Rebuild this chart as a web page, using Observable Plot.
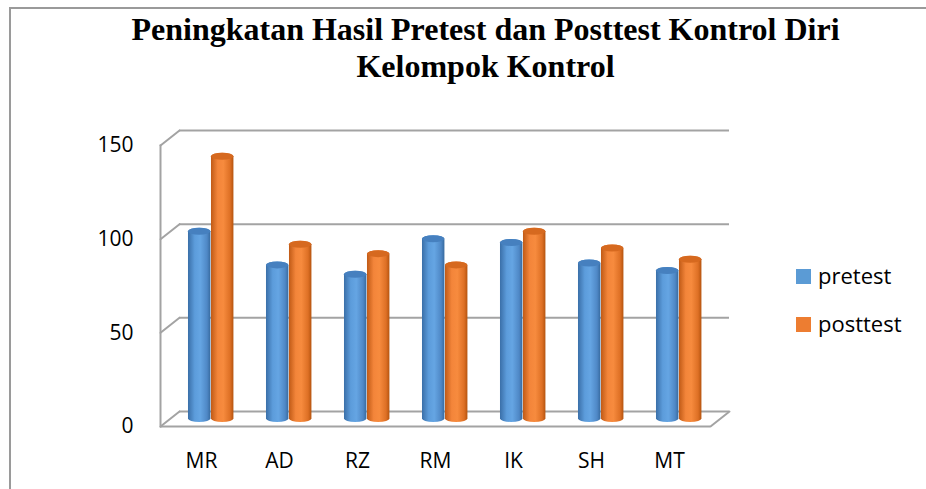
<!DOCTYPE html>
<html>
<head>
<meta charset="utf-8">
<script src="https://cdn.jsdelivr.net/npm/d3@7"></script>
<script src="https://cdn.jsdelivr.net/npm/@observablehq/plot@0.6"></script>
<style>
  html, body { margin: 0; padding: 0; background: #fff; }
  #wrap { position: relative; width: 926px; height: 489px; overflow: hidden; background: #fff; }
  #border { position: absolute; left: 9px; top: 7px; width: 930px; height: 500px; border: 2px solid #9a9a9a; box-sizing: border-box; }
  #title { position: absolute; left: 9px; width: 953px; top: 11px; text-align: center; font-family: "Liberation Serif", "Times New Roman", serif; font-weight: bold; font-size: 32px; line-height: 37px; color: #000; }
  #chart { position: absolute; left: 0; top: 0; }
  .legend { position: absolute; left: 796px; font-family: "Open Sans", sans-serif; font-size: 22px; color: #000; }
  .legend .item { position: absolute; left: 0; white-space: nowrap; height: 30px; line-height: 30px; }
  .legend .sw { display: inline-block; width: 15px; height: 15px; vertical-align: middle; margin-right: 7px; position: relative; top: -2px; }
</style>
</head>
<body>
<div id="wrap">
  <div id="border"></div>
  <div id="chart"></div>
  <div id="title">Peningkatan Hasil Pretest dan Posttest Kontrol Diri<br>Kelompok Kontrol</div>
  <div class="legend" id="legend"></div>
</div>
<script>
const categories = ["MR", "AD", "RZ", "RM", "IK", "SH", "MT"];
const seriesNames = ["pretest", "posttest"];
const pretest = [100, 82, 77, 96, 94, 83, 79];
const posttest = [140, 93, 88, 82, 100, 91, 85];
const yTicks = [0, 50, 100, 150];
const seriesColors = ["#5b9bd5", "#ed7d31"];

const data = [];
categories.forEach((c, i) => {
  data.push({cat: c, series: "pretest", value: pretest[i]});
  data.push({cat: c, series: "posttest", value: posttest[i]});
});
const pre = data.filter(d => d.series === "pretest");
const post = data.filter(d => d.series === "posttest");

const W = 926, H = 489;
const mL = 160, mR = 216, mT = 145, mB = 63;
const step = (W - mL - mR) / categories.length;
const barW = 23;
const inset = (step - barW) / 2;
const depthX = 19, depthY = -15;           // back wall offset
const midX = 9.7, midY = -7.5;             // bars sit mid-depth
const capR = 3.5;
const grid = "#a3a3a3";

const barOpts = (extra) => Object.assign({
  x: "cat", insetLeft: inset, insetRight: inset, dy: midY,
  rx: barW / 2, ry: capR
}, extra);

const plot = Plot.plot({
  width: W, height: H,
  marginLeft: mL, marginRight: mR, marginTop: mT, marginBottom: mB,
  style: {fontFamily: "Open Sans, sans-serif", fontSize: "21px", color: "#000", background: "transparent"},
  x: {type: "band", domain: categories, padding: 0, label: null},
  y: {domain: [0, 150], ticks: yTicks, label: null},
  marks: [
    // back wall gridlines (incl. back floor edge)
    Plot.ruleY(yTicks, {dx: depthX, dy: depthY, stroke: grid, strokeWidth: 2}),
    // depth connectors on the left
    Plot.vector(yTicks, {y: d => d, frameAnchor: "left", length: Math.hypot(depthX, depthY),
      rotate: Math.atan2(depthX, -depthY) * 180 / Math.PI, anchor: "start", shape: "spike", r: 0,
      stroke: grid, strokeWidth: 2, fill: "none"}),
    // floor right connector
    Plot.vector([0], {y: d => d, frameAnchor: "right", length: Math.hypot(depthX, depthY),
      rotate: Math.atan2(depthX, -depthY) * 180 / Math.PI, anchor: "start", shape: "spike", r: 0,
      stroke: grid, strokeWidth: 2, fill: "none"}),
    // front floor edge and left axis line
    Plot.ruleY([0], {stroke: grid, strokeWidth: 2}),
    Plot.frame({anchor: "left", stroke: grid, strokeWidth: 2}),
    // cylinders
    Plot.barY(pre, barOpts({y: "value", dx: midX - barW / 2, insetTop: -capR, insetBottom: -capR, fill: "url(#gBlue)"})),
    Plot.barY(post, barOpts({y: "value", dx: midX + barW / 2, insetTop: -capR, insetBottom: -capR, fill: "url(#gOrange)"})),
    // cylinder top caps
    Plot.barY(pre, barOpts({y1: "value", y2: "value", dx: midX - barW / 2, insetTop: -capR, insetBottom: -capR, fill: "#4680bf"})),
    Plot.barY(post, barOpts({y1: "value", y2: "value", dx: midX + barW / 2, insetTop: -capR, insetBottom: -capR, fill: "#d6691f"})),
    Plot.axisY({ticks: yTicks, tickSize: 0, tickPadding: 27, label: null}),
    Plot.axisX({tickSize: 0, tickPadding: 27, label: null})
  ]
});

// gradients for the cylinder shading
const defs = d3.select(plot).insert("defs", ":first-child");
function grad(id, stops) {
  const g = defs.append("linearGradient").attr("id", id).attr("x1", "0%").attr("x2", "100%").attr("y1", "0%").attr("y2", "0%");
  stops.forEach(([o, c]) => g.append("stop").attr("offset", o).attr("stop-color", c));
}
grad("gBlue", [["0%", "#3a6fa8"], ["30%", "#5c9cdb"], ["55%", "#65a5e3"], ["85%", "#4f88c6"], ["100%", "#376a9f"]]);
grad("gOrange", [["0%", "#c05a16"], ["30%", "#f3853a"], ["55%", "#f78b3e"], ["85%", "#de7025"], ["100%", "#b5540f"]]);

document.getElementById("chart").appendChild(plot);

// legend
const legend = document.getElementById("legend");
seriesNames.forEach((name, i) => {
  const item = document.createElement("div");
  item.className = "item";
  item.style.top = (260 + i * 48) + "px";
  const sw = document.createElement("span");
  sw.className = "sw";
  sw.style.background = seriesColors[i];
  item.appendChild(sw);
  item.appendChild(document.createTextNode(name));
  legend.appendChild(item);
});
legend.style.top = "0px";
</script>
</body>
</html>
